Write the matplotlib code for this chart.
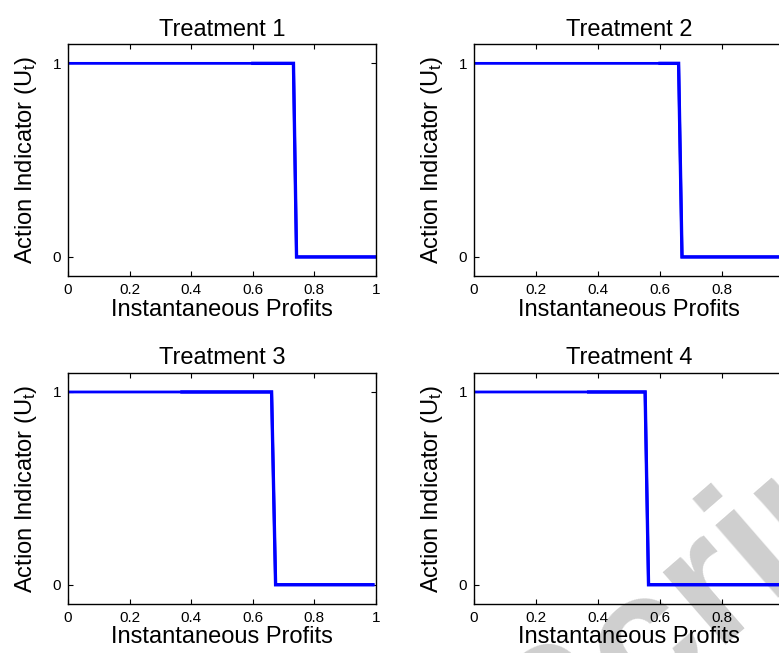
import matplotlib
matplotlib.use('Agg')
import matplotlib.pyplot as plt

plt.rcParams['font.family'] = ['Liberation Sans', 'DejaVu Sans']
plt.rcParams['mathtext.default'] = 'regular'

# ---- data ----
titles = ['Treatment 1', 'Treatment 2', 'Treatment 3', 'Treatment 4']
profits_t1 = [0.0, 0.60, 0.732, 0.742, 1.0]
profits_t2 = [0.0, 0.60, 0.660, 0.671, 1.0]
profits_t3 = [0.0, 0.37, 0.661, 0.674, 0.99]
profits_t4 = [0.0, 0.37, 0.552, 0.563, 1.0]
action_t1 = [1, 1, 1, 0, 0]
action_t2 = [1, 1, 1, 0, 0]
action_t3 = [1, 1, 1, 0, 0]
action_t4 = [1, 1, 1, 0, 0]
x_ticks = [0, 0.2, 0.4, 0.6, 0.8, 1.0]
x_ticklabels = ['0', '0.2', '0.4', '0.6', '0.8', '1']
y_ticks = [0, 1]
y_ticklabels = ['0', '1']

profits = [profits_t1, profits_t2, profits_t3, profits_t4]
actions = [action_t1, action_t2, action_t3, action_t4]

W, H = 779, 653
fig = plt.figure(figsize=(W / 100, H / 100), dpi=100)
fig.patch.set_facecolor('white')

# axes boxes in pixels: (left, top, right, bottom)
boxes = [(68, 44, 376, 276.3), (474, 44, 784, 276.3),
         (68, 372.7, 376, 604), (474, 372.7, 784, 604)]

for i, (l, t, r, b) in enumerate(boxes):
    ax = fig.add_axes([l / W, 1 - b / H, (r - l) / W, (b - t) / H])
    ax.set_facecolor('none')
    x = profits[i]
    u = actions[i]
    ax.plot(x, u, color='#0000ff', lw=2.0, solid_joinstyle='miter')
    ax.plot(x[1:], u[1:], color='#0000ff', lw=2.4, solid_joinstyle='miter')
    ax.set_xlim(0, 1)
    ax.set_ylim(-0.1, 1.1)
    ax.set_xticks(x_ticks)
    ax.set_xticklabels(x_ticklabels)
    ax.set_yticks(y_ticks)
    ax.set_yticklabels(y_ticklabels)
    ax.tick_params(direction='in', length=3.5, width=0.8, top=True, right=True,
                   labelsize=11, pad=5, colors='black')
    for sp in ax.spines.values():
        sp.set_linewidth(1.0)
        sp.set_color('black')
    ax.set_title(titles[i], fontsize=17, pad=6)
    ax.set_xlabel('Instantaneous Profits', fontsize=17, labelpad=1)
    ax.set_ylabel('Action Indicator (U$_t$)', fontsize=17, labelpad=10)

# faint watermark from the source document
fig.text(0.706, -0.215, 'Script', rotation=41, rotation_mode='anchor',
         ha='left', va='baseline', fontsize=130, fontweight='bold',
         color='#cfcfcf', zorder=-5)

fig.savefig('out.png', dpi=100, facecolor='white')
